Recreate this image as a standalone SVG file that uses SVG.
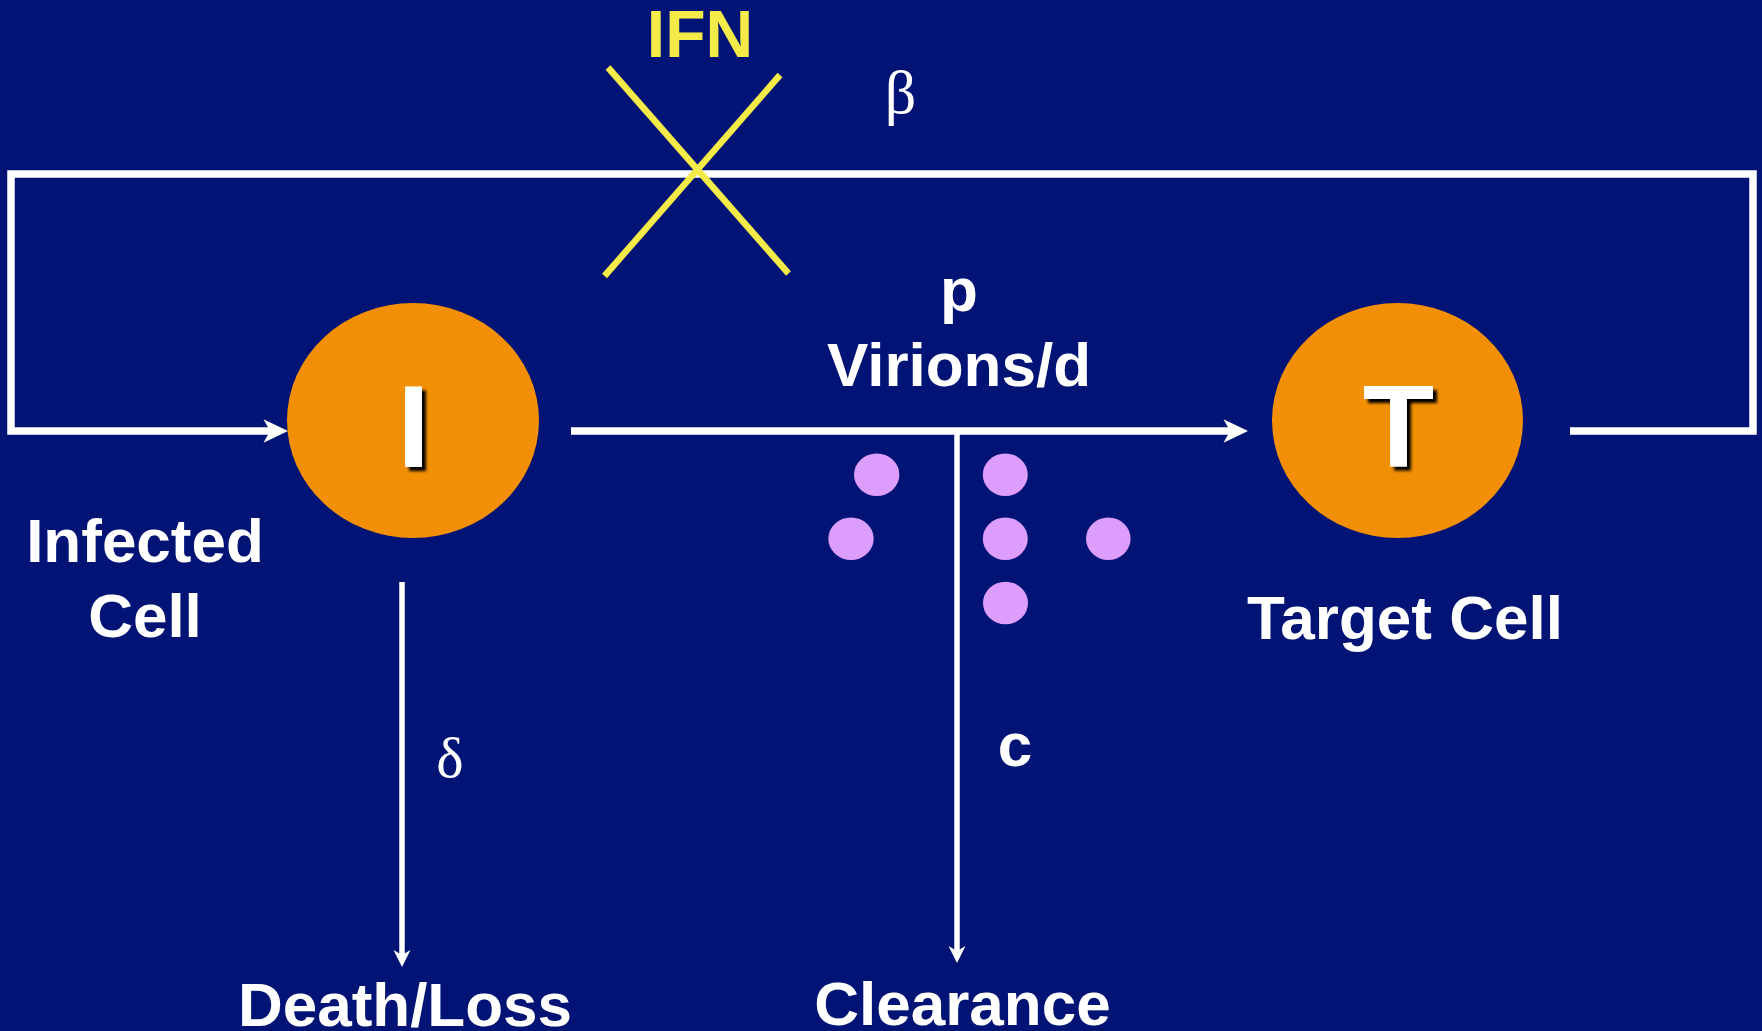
<svg xmlns="http://www.w3.org/2000/svg" width="1762" height="1031" viewBox="0 0 1762 1031">
  <style>
    .lbl { font-family: "Liberation Sans", Arial, sans-serif; font-weight: bold; font-size: 62px; fill: #ffffff; text-anchor: middle; }
    .greek { font-family: "Liberation Serif", "Times New Roman", serif; fill: #ffffff; text-anchor: middle; }
    .cell { fill: #F28F05; }
    .letter { font-family: "Liberation Sans", Arial, sans-serif; font-weight: bold; font-size: 117px; fill: #ffffff; text-anchor: middle; filter: url(#shadow); }
    .virion { fill: #DD9DFD; }
    .wire { fill: none; stroke: #ffffff; stroke-linecap: butt; stroke-linejoin: miter; }
    .thick { stroke-width: 7.5; }
    .thin { stroke-width: 5.5; }
    .block { stroke: #F4EA48; stroke-width: 6.5; stroke-linecap: butt; }
  </style>
  <defs>
    <filter id="shadow" x="-30%" y="-30%" width="170%" height="170%">
      <feDropShadow dx="4" dy="4" stdDeviation="1.5" flood-color="#000000" flood-opacity="1"/>
    </filter>
    <!-- barbed head, reference point at the notch -->
    <marker id="headBig" markerUnits="userSpaceOnUse" viewBox="-8 -13 28 26" markerWidth="28" markerHeight="26" refX="0" refY="0" orient="auto">
      <path d="M0,0 L-6.5,-11.7 L18,0 L-6.5,11.7 Z" fill="#ffffff"/>
    </marker>
    <marker id="headSmall" markerUnits="userSpaceOnUse" viewBox="-7 -10 22 20" markerWidth="22" markerHeight="20" refX="0" refY="0" orient="auto">
      <path d="M0,0 L-5,-8.5 L12,0 L-5,8.5 Z" fill="#ffffff"/>
    </marker>
  </defs>

  <rect x="0" y="0" width="1762" height="1031" fill="#011374"/>

  <!-- flows -->
  <g id="connectors">
    <!-- infection loop: T back round the top to I -->
    <path class="wire thick" d="M1570,431 H1753 V174 H11 V431 H270" marker-end="url(#headBig)"/>
    <!-- virion production I -> T -->
    <path class="wire thick" d="M571,431 H1230" marker-end="url(#headBig)"/>
    <!-- clearance of virions -->
    <path class="wire thin" d="M957,431 V951" marker-end="url(#headSmall)"/>
    <!-- death of infected cells -->
    <path class="wire thin" d="M402,582 V955" marker-end="url(#headSmall)"/>
  </g>

  <g id="node-I">
    <ellipse class="cell" cx="413" cy="420.5" rx="126" ry="117.5"/>
    <text class="letter" x="413.5" y="467">I</text>
    <text class="lbl" x="145" y="562">Infected</text>
    <text class="lbl" x="145" y="637">Cell</text>
  </g>

  <g id="node-T">
    <ellipse class="cell" cx="1397.5" cy="420.5" rx="125.5" ry="117.5"/>
    <text class="letter" x="1398.5" y="467">T</text>
    <text class="lbl" x="1405" y="639">Target Cell</text>
  </g>

  <g id="node-IFN">
    <text class="lbl" x="700" y="56.5" font-size="66" style="fill:#F4EA48;font-size:66px">IFN</text>
    <line class="block" x1="608" y1="67.5" x2="788.5" y2="273.5"/>
    <line class="block" x1="780" y1="75" x2="604.5" y2="276"/>
  </g>

  <g id="rate-labels">
    <text class="greek" x="900.5" y="113" font-size="62">β</text>
    <text class="lbl" x="959" y="311">p</text>
    <text class="lbl" x="959" y="386">Virions/d</text>
    <text class="greek" x="450" y="777" font-size="58">δ</text>
    <text class="lbl" x="1015" y="766">c</text>
  </g>

  <g id="virions">
    <ellipse class="virion" cx="876.7" cy="474.7" rx="22.7" ry="21.3"/>
    <ellipse class="virion" cx="851" cy="538.7" rx="22.7" ry="21.3"/>
    <ellipse class="virion" cx="1005.3" cy="474.7" rx="22.5" ry="21.3"/>
    <ellipse class="virion" cx="1005.3" cy="538.7" rx="22.5" ry="21.3"/>
    <ellipse class="virion" cx="1005.5" cy="603" rx="22.5" ry="21.3"/>
    <ellipse class="virion" cx="1108.3" cy="538.7" rx="22.3" ry="21.3"/>
  </g>

  <g id="node-death">
    <text class="lbl" x="405" y="1026">Death/Loss</text>
  </g>
  <g id="node-clearance">
    <text class="lbl" x="962.5" y="1025">Clearance</text>
  </g>
</svg>
